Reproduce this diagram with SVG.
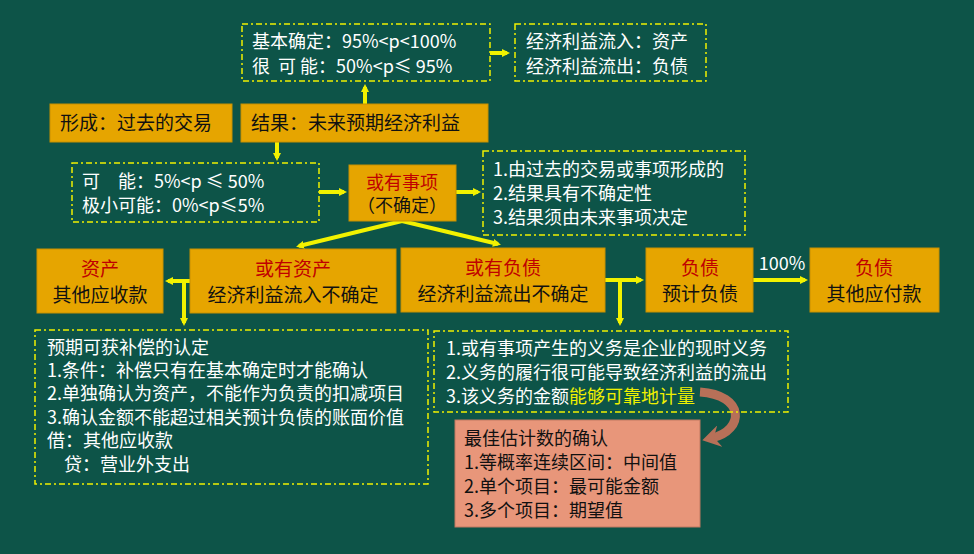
<svg xmlns="http://www.w3.org/2000/svg" width="974" height="554" viewBox="0 0 974 554">
<defs>
<marker id="ah" markerWidth="8" markerHeight="8" refX="5" refY="4" orient="auto" markerUnits="userSpaceOnUse" viewBox="0 0 8 8"><path d="M0,0 L8,4 L0,8 z" fill="#f2f200"/></marker>
<marker id="bh" markerWidth="22" markerHeight="22" refX="8" refY="11" orient="auto" markerUnits="userSpaceOnUse" viewBox="0 0 22 22"><path d="M0,0 L18,11 L0,22 L6,11 z" fill="#b77058"/></marker>
<style>
text{font-family:"Noto Sans CJK SC","Liberation Sans",sans-serif;font-size:18px}
.d{fill:none;stroke:#f0f000;stroke-width:1.5;stroke-dasharray:6,3,2,3}
.o{fill:#e6a500;stroke:#c89000;stroke-width:1}
.w{fill:#ffffff}
.k{fill:#111}
.r{fill:#c00000}
.b{font-size:19px}
.c{stroke:#f2f200;stroke-width:4;fill:none;marker-end:url(#ah)}
</style>
</defs>
<rect width="974" height="554" fill="#0d5448"/>
<g id="connectors">
<line class="c" x1="490" y1="53" x2="507" y2="53"/>
<line class="c" x1="365" y1="104" x2="365" y2="87"/>
<line class="c" x1="277" y1="142" x2="277" y2="158"/>
<line class="c" x1="319" y1="192" x2="344" y2="192"/>
<line class="c" x1="456" y1="192" x2="478" y2="192"/>
<polyline class="c" points="402,221 299,246"/>
<polyline class="c" points="402,221 498,244"/>
<line class="c" x1="190" y1="281" x2="168" y2="281"/>
<line class="c" x1="184" y1="281" x2="184" y2="323"/>
<line class="c" x1="605" y1="280" x2="641" y2="280"/>
<line class="c" x1="620" y1="280" x2="620" y2="323"/>
<line class="c" x1="753" y1="280" x2="805" y2="280"/>
<path d="M700,392 C745,395 745,430 712,438" fill="none" stroke="#b77058" stroke-width="9" marker-end="url(#bh)"/>
</g>
<g id="n_top1"><rect class="d" x="242" y="24" width="248" height="57"/>
<text class="w" x="252" y="48">基本确定：95%&lt;p&lt;100%</text><text class="w" x="252" y="73">很&#160;&#160;可&#160;能：50%&lt;p≤ 95%</text></g>
<g id="n_top2"><rect class="d" x="515" y="24" width="191" height="57"/>
<text class="w" x="526" y="48">经济利益流入：资产</text><text class="w" x="526" y="73">经济利益流出：负债</text></g>
<g id="n_form"><rect class="o" x="50" y="104" width="182" height="38"/><text class="k b" x="60" y="130">形成：过去的交易</text></g>
<g id="n_result"><rect class="o" x="241" y="104" width="247" height="38"/><text class="k b" x="251" y="130">结果：未来预期经济利益</text></g>
<g id="n_poss"><rect class="d" x="72" y="163" width="247" height="59"/>
<text class="w" x="82" y="188">可</text><text class="w" x="118" y="188">能：5%&lt;p ≤ 50%</text><text class="w" x="82" y="212">极小可能：0%&lt;p≤5%</text></g>
<g id="n_event"><rect class="o" x="349" y="165" width="107" height="56"/>
<text class="r" x="402" y="189" text-anchor="middle" font-size="16">或有事项</text><text class="k" x="402" y="212" text-anchor="middle" font-size="16">（不确定）</text></g>
<g id="n_feat"><rect class="d" x="483" y="151" width="262" height="84"/>
<text class="w" x="493" y="176">1.由过去的交易或事项形成的</text><text class="w" x="493" y="200">2.结果具有不确定性</text><text class="w" x="493" y="224">3.结果须由未来事项决定</text></g>
<g id="n_asset"><rect class="o" x="37" y="249" width="126" height="64"/>
<text class="r b" x="100" y="276" text-anchor="middle">资产</text><text class="k b" x="100" y="302" text-anchor="middle">其他应收款</text></g>
<g id="n_casset"><rect class="o" x="190" y="249" width="206" height="64"/>
<text class="r b" x="293" y="276" text-anchor="middle">或有资产</text><text class="k b" x="293" y="302" text-anchor="middle">经济利益流入不确定</text></g>
<g id="n_cliab"><rect class="o" x="401" y="248" width="204" height="64"/>
<text class="r b" x="503" y="275" text-anchor="middle">或有负债</text><text class="k b" x="503" y="301" text-anchor="middle">经济利益流出不确定</text></g>
<g id="n_liab"><rect class="o" x="646" y="248" width="107" height="64"/>
<text class="r b" x="700" y="275" text-anchor="middle">负债</text><text class="k b" x="700" y="301" text-anchor="middle">预计负债</text></g>
<text class="w" x="782" y="270" text-anchor="middle">100%</text>
<g id="n_pay"><rect class="o" x="810" y="248" width="129" height="64"/>
<text class="r b" x="874" y="275" text-anchor="middle">负债</text><text class="k b" x="874" y="301" text-anchor="middle">其他应付款</text></g>
<g id="n_comp"><rect class="d" x="35" y="330" width="393" height="154"/>
<text class="w" x="47" y="354">预期可获补偿的认定</text><text class="w" x="47" y="377">1.条件：补偿只有在基本确定时才能确认</text><text class="w" x="47" y="400">2.单独确认为资产，不能作为负责的扣减项目</text><text class="w" x="47" y="424">3.确认金额不能超过相关预计负债的账面价值</text><text class="w" x="47" y="447">借：其他应收款</text><text class="w" x="64" y="471">贷：营业外支出</text></g>
<g id="n_cond"><rect class="d" x="434" y="331" width="354" height="81"/>
<text class="w" x="446" y="355">1.或有事项产生的义务是企业的现时义务</text><text class="w" x="446" y="379">2.义务的履行很可能导致经济利益的流出</text><text class="w" x="446" y="403">3.该义务的金额<tspan fill="#f0f000">能够可靠地计量</tspan></text></g>
<g id="n_best"><rect x="455" y="420" width="245" height="107" fill="#e8967a" stroke="#c07860"/>
<text class="k" x="464" y="445">最佳估计数的确认</text><text class="k" x="464" y="469">1.等概率连续区间：中间值</text><text class="k" x="464" y="493">2.单个项目：最可能金额</text><text class="k" x="464" y="517">3.多个项目：期望值</text></g>
</svg>
